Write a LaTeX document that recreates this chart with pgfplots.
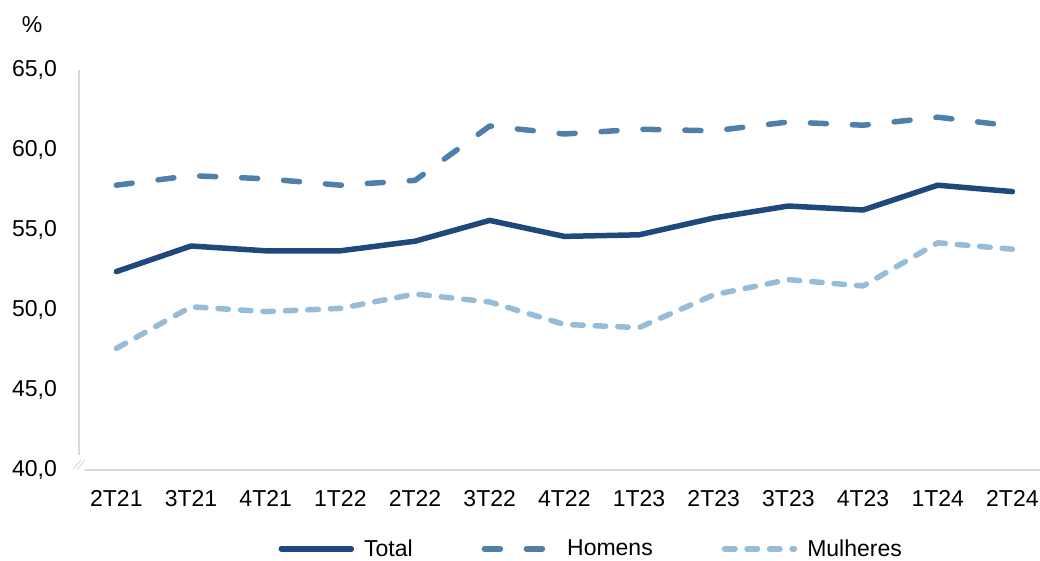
\documentclass[border=0pt]{standalone}
\usepackage{pgfplots}
\pgfplotsset{compat=1.18}
\usepackage{fontspec}
\setmainfont{Liberation Sans}
\definecolor{ctotal}{RGB}{31,73,125}
\definecolor{chom}{RGB}{80,127,170}
\definecolor{cmul}{RGB}{151,188,216}
\definecolor{caxis}{RGB}{217,217,217}
\begin{document}
\begin{tikzpicture}[x=1pt,y=1pt]
\begin{axis}[
  at={(79pt,90pt)}, anchor=south west,
  scale only axis, width=961pt, height=400pt,
  xmin=-0.5, xmax=12.37, ymin=40, ymax=65,
  axis line style={draw=none},
  major tick length=0pt,
  xtick={0,...,12},
  xticklabels={2T21,3T21,4T21,1T22,2T22,3T22,4T22,1T23,2T23,3T23,4T23,1T24,2T24},
  ytick={40,45,...,65},
  yticklabel style={/pgf/number format/fixed, /pgf/number format/fixed zerofill, /pgf/number format/precision=1, /pgf/number format/use comma, /pgf/number format/assume math mode=true},
  every tick label/.append style={font=\fontsize{23}{27}\selectfont, inner sep=0pt},
  xticklabel style={anchor=north, yshift=-20pt},
  yticklabel style={anchor=east, xshift=-22pt},
  legend columns=3,
  legend style={at={(0.533,-0.197)}, anchor=center, draw=none, fill=none,
    font=\fontsize{23}{27}\selectfont,
    /tikz/every even column/.append style={column sep=67pt}},
  legend image code/.code={\draw[#1] (0pt,0pt) -- (70pt,0pt); \path (78pt,0pt);},
  clip=false,
]
\draw[caxis, line width=1.5pt] (rel axis cs:0,1) -- (rel axis cs:0,0.0375);
\draw[caxis, line width=1.5pt] ([xshift=6pt]rel axis cs:0,0) -- (rel axis cs:1,0);
\draw[caxis, line width=1pt] ([xshift=-6pt,yshift=1pt]rel axis cs:0,0) -- ([xshift=2pt,yshift=10pt]rel axis cs:0,0);
\draw[caxis, line width=1pt] ([xshift=-2pt,yshift=0pt]rel axis cs:0,0) -- ([xshift=6pt,yshift=10pt]rel axis cs:0,0);
\addplot[ctotal, line width=5.5pt, line join=round, line cap=round] coordinates {
(0,52.4) (1,54.0) (2,53.7) (3,53.7) (4,54.3) (5,55.6) (6,54.6) (7,54.7) (8,55.75) (9,56.5) (10,56.25) (11,57.8) (12,57.4)};
\addlegendentry{Total}
\addplot[chom, line width=5.5pt, line join=round, line cap=round, dash pattern=on 16pt off 26pt] coordinates {
(0,57.8) (1,58.4) (2,58.2) (3,57.8) (4,58.1) (5,61.5) (6,61.0) (7,61.3) (8,61.2) (9,61.75) (10,61.55) (11,62.05) (12,61.5)};
\addlegendentry{Homens}
\addplot[cmul, line width=5.5pt, line join=round, line cap=round, dash pattern=on 10.5pt off 12pt] coordinates {
(0,47.6) (1,50.2) (2,49.9) (3,50.1) (4,51.0) (5,50.5) (6,49.1) (7,48.9) (8,50.95) (9,51.9) (10,51.5) (11,54.2) (12,53.8)};
\addlegendentry{Mulheres}
\end{axis}
\node[font=\fontsize{23}{27}\selectfont, inner sep=0pt] at (32,535) {\%};
\pgfresetboundingbox
\useasboundingbox (0,0) rectangle (1040,560);
\end{tikzpicture}
\end{document}
